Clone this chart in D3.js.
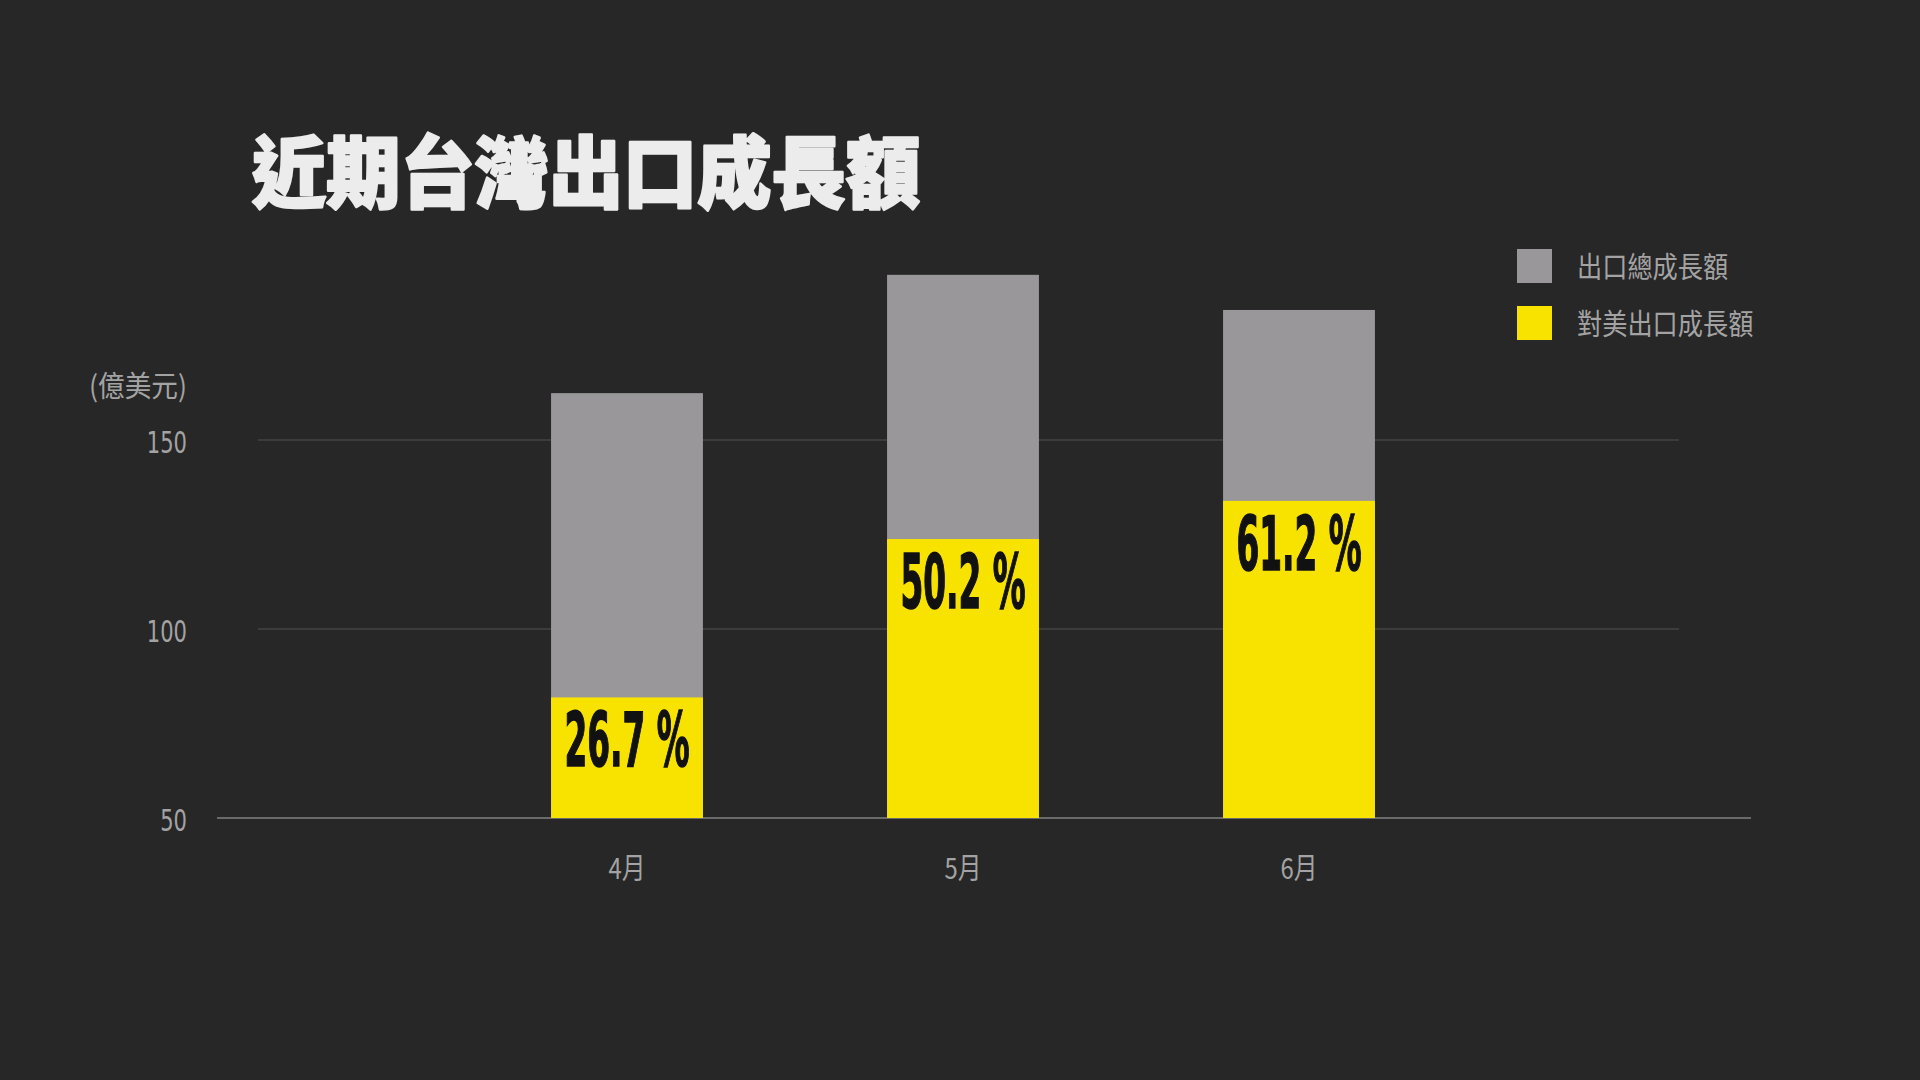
<!DOCTYPE html>
<html>
<head>
<meta charset="utf-8">
<script src="https://cdn.jsdelivr.net/npm/d3@7"></script>
<style>
  html, body { margin: 0; padding: 0; background: #272727; }
  svg { display: block; }
</style>
</head>
<body>
<div id="chart"></div>
<script>
/* 近期台灣出口成長額 - stacked bars on a truncated axis */

const months = ["4月", "5月", "6月"]
const totalGrowth = [162.4, 193.7, 184.4]   // 出口總成長額
const usGrowth = [81.9, 123.8, 133.9]       // 對美出口成長額
const usShare = [26.7, 50.2, 61.2]          // label, %
const yTicks = [50, 100, 150]
const legendItems = ["出口總成長額", "對美出口成長額"]

const width = 1920, height = 1080
const grayColor = "#999799", yellowColor = "#f8e300", labelColor = "#a3a3a3"
const cjk = "'Noto Sans CJK TC', 'Noto Sans CJK SC', sans-serif"
const narrow = "'DejaVu Sans Condensed', 'Liberation Sans Narrow', Roboto, sans-serif"

const svg = d3.select("#chart").append("svg")
    .attr("width", width)
    .attr("height", height)

svg.append("rect")
    .attr("width", width)
    .attr("height", height)
    .attr("fill", "#272727")

const x = d3.scaleBand()
    .domain(months)
    .range([459, 1467])
    .paddingInner(0.548)
    .paddingOuter(0.274)

const y = d3.scaleLinear()
    .domain([50, 150])
    .range([818, 440])

// title
svg.append("text")
    .attr("x", 252)
    .attr("y", 202)
    .attr("textLength", 668)
    .attr("lengthAdjust", "spacingAndGlyphs")
    .style("font-family", cjk)
    .style("font-weight", 900)
    .style("font-size", "78px")
    .style("fill", "#ececec")
    .style("stroke", "#ececec")
    .style("stroke-width", 2.5)
    .style("stroke-linejoin", "round")
    .text("近期台灣出口成長額")

// grid lines, the base one is longer and brighter
svg.append("g").selectAll("line")
    .data(yTicks)
    .enter().append("line")
    .attr("x1", d => d === 50 ? 217 : 258)
    .attr("x2", d => d === 50 ? 1751 : 1679)
    .attr("y1", d => y(d))
    .attr("y2", d => y(d))
    .attr("stroke", d => d === 50 ? "#6a6a6a" : "#525252")
    .attr("stroke-width", d => d === 50 ? 2 : 1.2)

// y axis labels
const yAxis = d3.axisLeft(y)
    .tickValues(yTicks)
    .tickSize(0)
    .tickPadding(0)

svg.append("g")
    .attr("transform", "translate(187,0)")
    .call(yAxis)
    .call(g => g.select(".domain").remove())
    .selectAll("text")
    .attr("dy", "0.4em")
    .attr("textLength", d => String(d).length * 13.4)
    .attr("lengthAdjust", "spacingAndGlyphs")
    .style("font-family", narrow)
    .style("font-size", "30px")
    .style("fill", labelColor)

svg.append("text")
    .attr("x", 187)
    .attr("y", 397)
    .attr("text-anchor", "end")
    .attr("textLength", 98)
    .attr("lengthAdjust", "spacingAndGlyphs")
    .style("font-family", cjk)
    .style("font-size", "29px")
    .style("fill", labelColor)
    .text("(億美元)")

// bars
const bars = svg.append("g").selectAll("g")
    .data(months)
    .enter().append("g")

bars.append("rect")
    .attr("x", d => x(d))
    .attr("width", x.bandwidth())
    .attr("y", (d, i) => y(totalGrowth[i]))
    .attr("height", (d, i) => y(50) - y(totalGrowth[i]))
    .attr("fill", grayColor)

bars.append("rect")
    .attr("x", d => x(d))
    .attr("width", x.bandwidth())
    .attr("y", (d, i) => y(usGrowth[i]))
    .attr("height", (d, i) => y(50) - y(usGrowth[i]))
    .attr("fill", yellowColor)

bars.append("text")
    .attr("x", d => x(d) + x.bandwidth() / 2)
    .attr("y", (d, i) => y(usGrowth[i]) + 69)
    .attr("text-anchor", "middle")
    .attr("textLength", 125)
    .attr("lengthAdjust", "spacingAndGlyphs")
    .style("font-family", narrow)
    .style("font-weight", "bold")
    .style("font-size", "74px")
    .style("fill", "#111")
    .style("stroke", "#111")
    .style("stroke-width", 1.5)
    .text((d, i) => usShare[i] + " %")

// x axis labels
const xAxis = d3.axisBottom(x).tickSize(0)

svg.append("g")
    .attr("transform", "translate(0,818)")
    .call(xAxis)
    .call(g => g.select(".domain").remove())
    .selectAll("text")
    .attr("y", 61)
    .attr("dy", 0)
    .attr("textLength", 37)
    .attr("lengthAdjust", "spacingAndGlyphs")
    .style("font-family", cjk)
    .style("font-size", "29px")
    .style("fill", labelColor)

// legend
const legend = svg.append("g").selectAll(".legends")
    .data(legendItems)
    .enter().append("g")
    .attr("class", "legends")
    .attr("transform", (d, i) => "translate(1517," + (249 + i * 57) + ")")

legend.append("rect")
    .attr("width", 35)
    .attr("height", 34)
    .attr("fill", (d, i) => i === 0 ? grayColor : yellowColor)

legend.append("text")
    .attr("x", 60)
    .attr("y", 29)
    .attr("textLength", d => d.length * 25.2)
    .attr("lengthAdjust", "spacingAndGlyphs")
    .style("font-family", cjk)
    .style("font-size", "29px")
    .style("fill", labelColor)
    .text(d => d)
</script>
</body>
</html>
